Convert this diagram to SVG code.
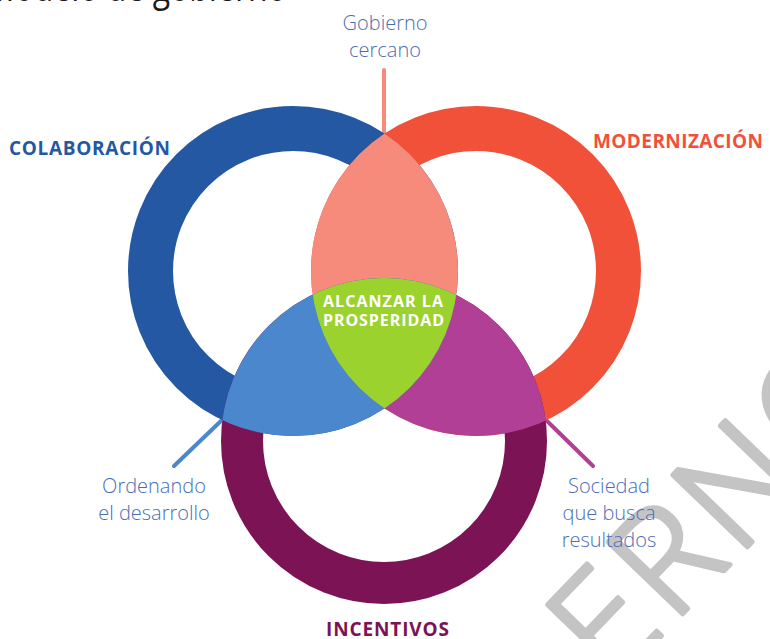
<svg xmlns="http://www.w3.org/2000/svg" width="770" height="639" viewBox="0 0 770 639">
<style>
.lbl{font-family:"Open Sans","DejaVu Sans",sans-serif;font-weight:300;font-size:20px;fill:#4B6DB6;text-anchor:middle}
.ttl{font-family:"Open Sans","DejaVu Sans",sans-serif;font-weight:700;font-size:19px}
.ctr{font-family:"Open Sans","DejaVu Sans",sans-serif;font-weight:700;font-size:16px;fill:#ffffff}
.ring{fill:none}
.lead{stroke-width:4;stroke-linecap:round;fill:none}
.wm{font-family:"Open Sans","DejaVu Sans",sans-serif;font-weight:300;font-size:145px;letter-spacing:7px;fill:#C4C4C4;stroke:#C4C4C4;stroke-width:5;stroke-linejoin:round}
</style>
<defs>
<clipPath id="cB"><circle cx="293" cy="271" r="165"/></clipPath>
<clipPath id="cR"><circle cx="476" cy="271" r="165"/></clipPath>
</defs>
<rect width="770" height="639" fill="#ffffff"/>
<g id="watermark"><text class="wm" transform="translate(612,687) rotate(-46)">ERNO</text></g>
<g id="title"><text transform="scale(0.8,1)" x="-18" y="1" style="font-family:'Open Sans','DejaVu Sans',sans-serif;font-size:40px;fill:#1a1a1a">Modelo de gobierno</text></g>
<g id="connectors">
<line class="lead" x1="384" y1="70" x2="384" y2="138" stroke="#F68B7C"/>
<line class="lead" x1="174" y1="466" x2="222" y2="420" stroke="#4A87CD"/>
<line class="lead" x1="593" y1="466" x2="546" y2="420" stroke="#B13F95"/>
</g>
<g id="ring-colaboracion">
<circle class="ring" cx="293" cy="271" r="142.5" stroke="#2458A3" stroke-width="45"/>
<text class="ttl" x="9" y="155" fill="#2458A3" textLength="161" lengthAdjust="spacing">COLABORACIÓN</text>
</g>
<g id="ring-modernizacion">
<circle class="ring" cx="476" cy="271" r="142.5" stroke="#F15139" stroke-width="45"/>
<text class="ttl" x="593" y="148" fill="#F15139" textLength="170" lengthAdjust="spacing">MODERNIZACIÓN</text>
</g>
<g id="ring-incentivos">
<circle class="ring" cx="384" cy="441" r="142" stroke="#7B1355" stroke-width="42"/>
<text class="ttl" x="326" y="636" fill="#7B1355" textLength="123" lengthAdjust="spacing">INCENTIVOS</text>
</g>
<g id="gobierno-cercano">
<circle cx="476" cy="271" r="165" fill="#F68B7C" clip-path="url(#cB)"/>
<text class="lbl" x="385" y="30">Gobierno</text>
<text class="lbl" x="385" y="57">cercano</text>
</g>
<g id="sociedad-resultados">
<circle cx="384" cy="441" r="163" fill="#B13F95" clip-path="url(#cR)"/>
<text class="lbl" x="609" y="493">Sociedad</text>
<text class="lbl" x="609" y="520">que busca</text>
<text class="lbl" x="609" y="547">resultados</text>
</g>
<g id="ordenando-desarrollo">
<circle cx="384" cy="441" r="163" fill="#4A87CD" clip-path="url(#cB)"/>
<text class="lbl" x="154" y="493">Ordenando</text>
<text class="lbl" x="154" y="520">el desarrollo</text>
</g>
<g id="prosperidad">
<g clip-path="url(#cB)"><circle cx="384" cy="441" r="163" fill="#9CD22D" clip-path="url(#cR)"/></g>
<text class="ctr" x="323" y="307" textLength="120" lengthAdjust="spacing">ALCANZAR LA</text>
<text class="ctr" x="323" y="326" textLength="121" lengthAdjust="spacing">PROSPERIDAD</text>
</g>
</svg>
